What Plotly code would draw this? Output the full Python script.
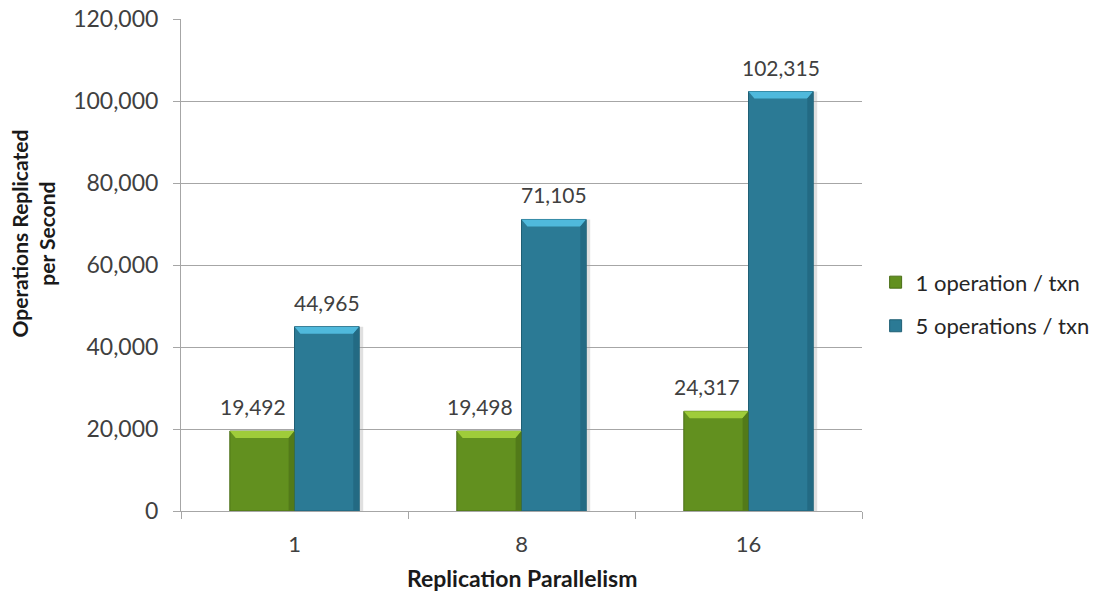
import plotly.graph_objects as go

# Chart data
categories = ["1", "8", "16"]
one_op = [19492, 19498, 24317]
five_ops = [44965, 71105, 102315]
series_names = ["1 operation / txn", "5 operations / txn"]
y_ticks = [0, 20000, 40000, 60000, 80000, 100000, 120000]

FONT = "Lato, 'Open Sans', sans-serif"
TEXT = "#404040"
GRID = "#a6a6a6"

BAR_W = 0.285
positions = list(range(len(categories)))

styles = [
    dict(body="#62901f", edge="#4a6e16", top="#9fcc3a", side="#527a19",
         offset=-BAR_W, label_shift=-9),
    dict(body="#2b7a95", edge="#1f5f75", top="#4fb9dc", side="#236a83",
         offset=0.0, label_shift=0),
]

fig = go.Figure()

shapes = []
annotations = []
inset = 0.026  # horizontal bevel inset in axis units

# soft drop shadow to the right of every bar
for values, st in zip([one_op, five_ops], styles):
    for x, v in zip(positions, values):
        x1 = x + st["offset"] + BAR_W
        shapes.append(dict(
            type="rect", xref="x", yref="y", xsizemode="pixel", xanchor=x1,
            x0=0, x1=4, y0=0, y1=v, fillcolor="rgba(0,0,0,0.12)",
            line=dict(width=0), layer="below",
        ))

for name, values, st in zip(series_names, [one_op, five_ops], styles):
    fig.add_trace(go.Bar(
        x=positions,
        y=values,
        name=name,
        width=BAR_W,
        offset=st["offset"],
        marker=dict(color=st["body"], line=dict(color=st["edge"], width=1)),
        legendgroup=name,
    ))

for values, st in zip([one_op, five_ops], styles):
    for x, v in zip(positions, values):
        x0 = x + st["offset"]
        x1 = x0 + BAR_W
        # lighter top bevel (y measured in pixels from the bar top)
        shapes.append(dict(
            type="path", xref="x", yref="y", xsizemode="scaled",
            ysizemode="pixel", yanchor=v,
            path=f"M{x0},0 L{x1},0 L{x1 - inset},-7 L{x0 + inset},-7 Z",
            fillcolor=st["top"], line=dict(width=0), layer="above",
        ))
        # darker right edge
        shapes.append(dict(
            type="path", xref="x", yref="y", xsizemode="scaled",
            ysizemode="pixel", yanchor=v,
            path=f"M{x1},0 L{x1 - inset},-7 L{x1 - inset},-2000 L{x1},-2000 Z",
            fillcolor=st["side"], line=dict(width=0), layer="above",
        ))
        annotations.append(dict(
            x=(x0 + x1) / 2, y=v, xref="x", yref="y",
            text=f"{v:,}", showarrow=False, yanchor="bottom", yshift=10,
            xshift=st["label_shift"],
            font=dict(family=FONT, size=21, color=TEXT),
        ))

# axis titles
annotations.append(dict(
    text="<b>Operations Replicated<br>per Second</b>", textangle=-90,
    xref="paper", yref="paper", x=-0.218, y=0.563,
    xanchor="center", yanchor="middle", showarrow=False,
    font=dict(family=FONT, size=21, color="#1a1a1a"),
))
annotations.append(dict(
    text="<b>Replication Parallelism</b>",
    xref="paper", yref="paper", x=0.5, y=-0.136,
    xanchor="center", yanchor="middle", showarrow=False,
    font=dict(family=FONT, size=23, color="#1a1a1a"),
))

fig.update_layout(
    width=1107, height=593,
    margin=dict(l=181, r=245, t=19, b=82),
    paper_bgcolor="white", plot_bgcolor="white",
    font=dict(family=FONT, color=TEXT),
    showlegend=True,
    legend=dict(
        x=1.02, y=0.42, xanchor="left", yanchor="middle",
        font=dict(family=FONT, size=22, color="#262626"),
        tracegroupgap=12, itemwidth=30,
    ),
    shapes=shapes,
    annotations=annotations,
    xaxis=dict(
        range=[-0.5, len(categories) - 0.5], automargin=False,
        tickvals=positions, ticktext=categories,
        ticks="outside", ticklen=14, tickcolor="rgba(0,0,0,0)",
        showgrid=False, zeroline=False,
        showline=True, linecolor=GRID, linewidth=1,
        tickfont=dict(family=FONT, size=22, color=TEXT),
        minor=dict(tickvals=[p - 0.5 for p in positions] + [positions[-1] + 0.5],
                   ticks="outside", ticklen=7, tickcolor=GRID, showgrid=False),
    ),
    yaxis=dict(
        range=[0, 120000], tickvals=y_ticks, automargin=False,
        ticktext=[f"{t:,}" for t in y_ticks],
        ticks="outside", ticklen=7, tickcolor=GRID, ticklabelstandoff=10,
        showgrid=True, gridcolor=GRID, gridwidth=1,
        zeroline=False, showline=True, linecolor=GRID, linewidth=1,
        tickfont=dict(family=FONT, size=23, color=TEXT),
    ),
)

fig.write_html("out.html")
